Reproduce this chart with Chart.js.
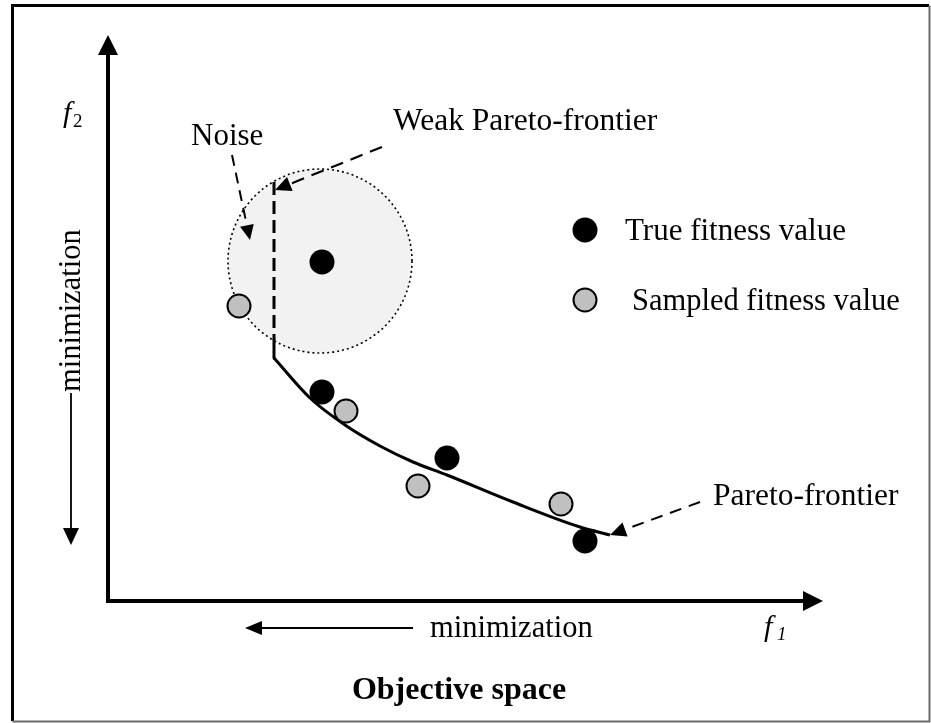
<!DOCTYPE html>
<html>
<head>
<meta charset="utf-8">
<script src="https://cdn.jsdelivr.net/npm/chart.js@4/dist/chart.umd.min.js"></script>
<style>
  html, body { margin: 0; padding: 0; background: #fff; }
  #c { display: block; }
</style>
</head>
<body>
<canvas id="c" width="931" height="723"></canvas>
<script>
// Objective space drawn in figure units (x to the right, y downward).
const trueX = [322, 322, 447, 585];
const trueY = [262, 392, 458, 541];
const sampledX = [239, 346, 418, 561];
const sampledY = [306, 411, 486, 504];

// Pareto frontier curve
const frontX = [274, 310, 345, 380, 413, 447, 513, 580, 610];
const frontY = [358, 398, 425, 446, 462, 475, 502, 527, 535];

// Weak frontier: dashed vertical, then a short solid piece down to the curve
const weakX = [274, 274];
const weakY = [182, 340];
const stubX = [274, 274];
const stubY = [340, 358];

// Noise region
const noiseCenter = [320, 261];
const noiseRadius = 92;

const SERIF = '"Liberation Serif", "Times New Roman", serif';

const toPts = (xs, ys) => xs.map((x, i) => ({ x, y: ys[i] }));

function arrow(ctx, x1, y1, x2, y2, o) {
  const { width = 2, dash = [], head = 16, half = 7 } = o || {};
  const a = Math.atan2(y2 - y1, x2 - x1);
  const bx = x2 - Math.cos(a) * head, by = y2 - Math.sin(a) * head;
  ctx.save();
  ctx.strokeStyle = '#000';
  ctx.fillStyle = '#000';
  ctx.lineWidth = width;
  ctx.setLineDash(dash);
  ctx.beginPath();
  ctx.moveTo(x1, y1);
  ctx.lineTo(bx, by);
  ctx.stroke();
  ctx.setLineDash([]);
  ctx.beginPath();
  ctx.moveTo(x2, y2);
  ctx.lineTo(bx + Math.sin(a) * half, by - Math.cos(a) * half);
  ctx.lineTo(bx - Math.sin(a) * half, by + Math.cos(a) * half);
  ctx.closePath();
  ctx.fill();
  ctx.restore();
}

function text(ctx, s, x, y, font, align) {
  ctx.font = font;
  ctx.textAlign = align || 'left';
  ctx.textBaseline = 'alphabetic';
  ctx.fillStyle = '#000';
  ctx.fillText(s, x, y);
}

const diagram = {
  id: 'diagram',
  beforeDatasetsDraw(chart) {
    const { ctx, scales: { x, y } } = chart;
    // frame
    ctx.save();
    ctx.lineWidth = 3;
    ctx.strokeStyle = '#000';
    ctx.beginPath();
    ctx.moveTo(x.getPixelForValue(12.5), y.getPixelForValue(721));
    ctx.lineTo(x.getPixelForValue(12.5), y.getPixelForValue(5.5));
    ctx.lineTo(x.getPixelForValue(929), y.getPixelForValue(5.5));
    ctx.stroke();
    ctx.lineWidth = 2;
    ctx.strokeStyle = '#6b6b6b';
    ctx.beginPath();
    ctx.moveTo(x.getPixelForValue(12.5), y.getPixelForValue(721.5));
    ctx.lineTo(x.getPixelForValue(929.5), y.getPixelForValue(721.5));
    ctx.lineTo(x.getPixelForValue(929.5), y.getPixelForValue(5.5));
    ctx.stroke();

    // noise circle
    const cx = x.getPixelForValue(noiseCenter[0]);
    const cy = y.getPixelForValue(noiseCenter[1]);
    const r = Math.abs(x.getPixelForValue(noiseCenter[0] + noiseRadius) - cx);
    ctx.beginPath();
    ctx.arc(cx, cy, r, 0, Math.PI * 2);
    ctx.fillStyle = '#f2f2f2';
    ctx.fill();
    ctx.setLineDash([2, 3]);
    ctx.lineWidth = 1.6;
    ctx.strokeStyle = '#000';
    ctx.stroke();
    ctx.restore();

    // axes
    const ox = x.getPixelForValue(108), oy = y.getPixelForValue(601);
    arrow(ctx, ox, oy + 2, ox, y.getPixelForValue(35), { width: 4, head: 20, half: 10 });
    arrow(ctx, ox - 2, oy, x.getPixelForValue(823), oy, { width: 4, head: 20, half: 10 });
  },
  afterDatasetsDraw(chart) {
    const { ctx, scales: { x, y } } = chart;
    const P = (a, b) => [x.getPixelForValue(a), y.getPixelForValue(b)];

    // callouts
    arrow(ctx, ...P(232, 155), ...P(250, 240), { width: 2, dash: [11, 7], head: 15, half: 7 });
    arrow(ctx, ...P(382, 147), ...P(275, 190), { width: 2.2, dash: [13, 8], head: 16, half: 7.5 });
    arrow(ctx, ...P(700, 502), ...P(610, 535), { width: 2, dash: [12, 8], head: 16, half: 7.5 });

    // minimization arrows
    arrow(ctx, ...P(413, 628), ...P(245, 628), { width: 1.8, head: 17, half: 7 });
    arrow(ctx, ...P(71, 393), ...P(71, 545), { width: 1.8, head: 17, half: 8 });

    // labels
    text(ctx, 'Noise', ...P(191, 145), `31px ${SERIF}`);
    text(ctx, 'Weak Pareto-frontier', ...P(393, 130), `31.5px ${SERIF}`);
    text(ctx, 'Pareto-frontier', ...P(713, 505), `31.5px ${SERIF}`);
    text(ctx, 'minimization', ...P(430, 637), `30.5px ${SERIF}`);
    text(ctx, 'Objective space', ...P(459, 699), `bold 32px ${SERIF}`, 'center');

    text(ctx, 'f', ...P(63, 122), `italic 30px ${SERIF}`);
    text(ctx, '2', ...P(73, 127), `19px ${SERIF}`);
    text(ctx, 'f', ...P(764, 636), `italic 30px ${SERIF}`);
    text(ctx, '1', ...P(777, 640), `italic 19px ${SERIF}`);

    ctx.save();
    ctx.translate(...P(80, 392));
    ctx.rotate(-Math.PI / 2);
    text(ctx, 'minimization', 0, 0, `30.5px ${SERIF}`);
    ctx.restore();

    // legend
    ctx.save();
    ctx.beginPath();
    ctx.arc(...P(585, 230), 12.5, 0, Math.PI * 2);
    ctx.fillStyle = '#000';
    ctx.fill();
    ctx.beginPath();
    ctx.arc(...P(585, 300), 11.5, 0, Math.PI * 2);
    ctx.fillStyle = '#c0c0c0';
    ctx.fill();
    ctx.lineWidth = 2;
    ctx.strokeStyle = '#000';
    ctx.stroke();
    ctx.restore();
    text(ctx, 'True fitness value', ...P(625, 240), `31px ${SERIF}`);
    text(ctx, 'Sampled fitness value', ...P(632, 310), `30.5px ${SERIF}`);
  }
};

new Chart(document.getElementById('c'), {
  type: 'scatter',
  data: {
    datasets: [
      {
        label: 'True fitness value',
        data: toPts(trueX, trueY),
        pointRadius: 12.5,
        pointBackgroundColor: '#000',
        pointBorderColor: '#000',
        pointBorderWidth: 0,
        order: 0,
      },
      {
        label: 'Sampled fitness value',
        data: toPts(sampledX, sampledY),
        pointRadius: 11.5,
        pointBackgroundColor: '#c0c0c0',
        pointBorderColor: '#000',
        pointBorderWidth: 2,
        order: 1,
      },
      {
        label: 'Pareto-frontier',
        type: 'line',
        data: toPts(frontX, frontY),
        borderColor: '#000',
        borderWidth: 3,
        pointRadius: 0,
        cubicInterpolationMode: 'monotone',
        fill: false,
        order: 2,
      },
      {
        label: 'Weak Pareto-frontier',
        type: 'line',
        data: toPts(weakX, weakY),
        borderColor: '#000',
        borderWidth: 3,
        borderDash: [13, 6],
        pointRadius: 0,
        tension: 0,
        fill: false,
        order: 3,
      },
      {
        label: 'Weak frontier stub',
        type: 'line',
        data: toPts(stubX, stubY),
        borderColor: '#000',
        borderWidth: 3,
        borderCapStyle: 'round',
        pointRadius: 0,
        tension: 0,
        fill: false,
        order: 4,
      },
    ],
  },
  options: {
    responsive: false,
    animation: false,
    layout: { padding: 0, autoPadding: false },
    clip: false,
    events: [],
    plugins: { legend: { display: false }, tooltip: { enabled: false } },
    scales: {
      x: { type: 'linear', min: 0, max: 931, display: false },
      y: { type: 'linear', min: 0, max: 723, reverse: true, display: false },
    },
  },
  plugins: [diagram],
});
</script>
</body>
</html>
